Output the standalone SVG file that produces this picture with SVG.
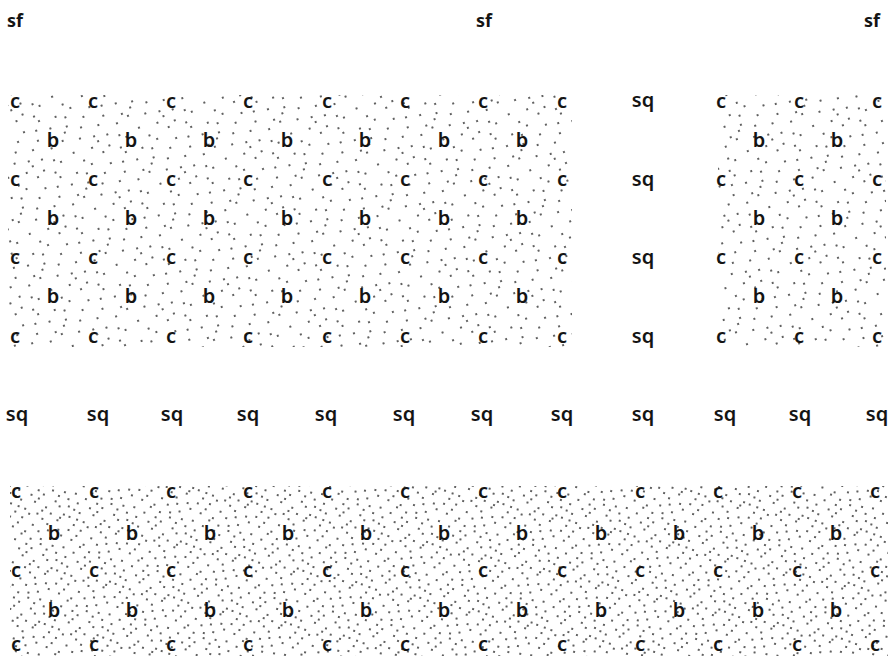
<svg xmlns="http://www.w3.org/2000/svg" width="891" height="656" viewBox="0 0 891 656">
<style>
.t{font-family:"Noto Sans","DejaVu Sans",sans-serif;font-size:20px;font-weight:600;fill:#141414;text-anchor:middle}
.s{font-size:18px;font-weight:700}
</style>
<defs>
<pattern id="pA" width="60" height="55" patternUnits="userSpaceOnUse" x="3" y="2" patternTransform="rotate(13)">
<g fill="#1c1c1c">
<circle cx="3" cy="4" r="0.95"/><circle cx="15" cy="2" r="0.95"/><circle cx="27" cy="7" r="0.95"/><circle cx="41" cy="3" r="0.95"/><circle cx="53" cy="6" r="0.95"/>
<circle cx="8" cy="13" r="0.95"/><circle cx="21" cy="15" r="0.95"/><circle cx="34" cy="12" r="0.95"/><circle cx="47" cy="16" r="0.95"/><circle cx="57" cy="11" r="0.95"/>
<circle cx="2" cy="22" r="0.95"/><circle cx="13" cy="25" r="0.95"/><circle cx="28" cy="21" r="0.95"/><circle cx="39" cy="24" r="0.95"/><circle cx="51" cy="23" r="0.95"/>
<circle cx="6" cy="31" r="0.95"/><circle cx="19" cy="33" r="0.95"/><circle cx="31" cy="30" r="0.95"/><circle cx="44" cy="34" r="0.95"/><circle cx="56" cy="29" r="0.95"/>
<circle cx="10" cy="40" r="0.95"/><circle cx="24" cy="39" r="0.95"/><circle cx="36" cy="42" r="0.95"/><circle cx="49" cy="38" r="0.95"/><circle cx="1" cy="46" r="0.95"/>
<circle cx="16" cy="48" r="0.95"/><circle cx="29" cy="50" r="0.95"/><circle cx="42" cy="47" r="0.95"/><circle cx="55" cy="45" r="0.95"/><circle cx="7" cy="53" r="0.95"/>
<circle cx="21" cy="52" r="0.95"/><circle cx="35" cy="54" r="0.95"/><circle cx="50" cy="52" r="0.95"/><circle cx="12" cy="8" r="0.95"/><circle cx="38" cy="19" r="0.95"/>
<circle cx="25" cy="27" r="0.95"/><circle cx="58" cy="36" r="0.95"/><circle cx="4" cy="38" r="0.95"/><circle cx="46" cy="28" r="0.95"/><circle cx="33" cy="46" r="0.95"/>
<circle cx="18" cy="18" r="0.95"/><circle cx="52" cy="49" r="0.95"/><circle cx="9" cy="47" r="0.95"/><circle cx="43" cy="9" r="0.95"/><circle cx="27" cy="35" r="0.95"/>
</g>
</pattern>
<pattern id="pB" width="70" height="60" patternUnits="userSpaceOnUse" x="5" y="3" patternTransform="rotate(-21)">
<g fill="#1c1c1c">
<circle cx="5" cy="6" r="0.95"/><circle cx="22" cy="3" r="0.95"/><circle cx="40" cy="9" r="0.95"/><circle cx="58" cy="4" r="0.95"/>
<circle cx="12" cy="19" r="0.95"/><circle cx="31" cy="16" r="0.95"/><circle cx="50" cy="22" r="0.95"/><circle cx="66" cy="15" r="0.95"/>
<circle cx="3" cy="31" r="0.95"/><circle cx="20" cy="35" r="0.95"/><circle cx="42" cy="29" r="0.95"/><circle cx="60" cy="34" r="0.95"/>
<circle cx="9" cy="46" r="0.95"/><circle cx="28" cy="48" r="0.95"/><circle cx="47" cy="41" r="0.95"/><circle cx="64" cy="50" r="0.95"/>
<circle cx="16" cy="57" r="0.95"/><circle cx="37" cy="56" r="0.95"/><circle cx="55" cy="58" r="0.95"/><circle cx="25" cy="25" r="0.95"/>
<circle cx="45" cy="52" r="0.95"/><circle cx="68" cy="27" r="0.95"/><circle cx="34" cy="38" r="0.95"/><circle cx="14" cy="10" r="0.95"/>
<circle cx="52" cy="12" r="0.95"/><circle cx="8" cy="24" r="0.95"/><circle cx="36" cy="44" r="0.95"/><circle cx="58" cy="46" r="0.95"/>
</g>
</pattern>
</defs>
<rect width="891" height="656" fill="#fff"/>
<g id="stipple">
<rect x="8" y="95" width="564" height="252" fill="url(#pB)"/>
<rect x="718" y="95" width="168" height="252" fill="url(#pB)"/>
<rect x="10" y="486" width="878" height="170" fill="url(#pA)"/>
</g>
<g id="sf" class="t s">
<text x="15" y="27">sf</text>
<text x="484" y="27">sf</text>
<text x="872" y="27">sf</text>
</g>
<g id="top-block" class="t">
<g id="top-c">
<text x="15" y="108">c</text><text x="93" y="108">c</text><text x="171" y="108">c</text><text x="248" y="108">c</text><text x="327" y="108">c</text><text x="405" y="108">c</text><text x="483" y="108">c</text><text x="562" y="108">c</text>
<text x="15" y="186">c</text><text x="93" y="186">c</text><text x="171" y="186">c</text><text x="248" y="186">c</text><text x="327" y="186">c</text><text x="405" y="186">c</text><text x="483" y="186">c</text><text x="562" y="186">c</text>
<text x="15" y="264">c</text><text x="93" y="264">c</text><text x="171" y="264">c</text><text x="248" y="264">c</text><text x="327" y="264">c</text><text x="405" y="264">c</text><text x="483" y="264">c</text><text x="562" y="264">c</text>
<text x="15" y="343">c</text><text x="93" y="343">c</text><text x="171" y="343">c</text><text x="248" y="343">c</text><text x="327" y="343">c</text><text x="405" y="343">c</text><text x="483" y="343">c</text><text x="562" y="343">c</text>
</g>
<g id="top-b">
<text x="53" y="147">b</text><text x="131" y="147">b</text><text x="209" y="147">b</text><text x="287" y="147">b</text><text x="365" y="147">b</text><text x="444" y="147">b</text><text x="522" y="147">b</text>
<text x="53" y="225">b</text><text x="131" y="225">b</text><text x="209" y="225">b</text><text x="287" y="225">b</text><text x="365" y="225">b</text><text x="444" y="225">b</text><text x="522" y="225">b</text>
<text x="53" y="303">b</text><text x="131" y="303">b</text><text x="209" y="303">b</text><text x="287" y="303">b</text><text x="365" y="303">b</text><text x="444" y="303">b</text><text x="522" y="303">b</text>
</g>
</g>
<g id="sq-column" class="t">
<text x="643" y="107">sq</text><text x="643" y="186">sq</text><text x="643" y="264">sq</text><text x="643" y="343">sq</text>
</g>
<g id="right-block" class="t">
<text x="721" y="108">c</text><text x="799" y="108">c</text><text x="877" y="108">c</text>
<text x="721" y="186">c</text><text x="799" y="186">c</text><text x="877" y="186">c</text>
<text x="721" y="264">c</text><text x="799" y="264">c</text><text x="877" y="264">c</text>
<text x="721" y="343">c</text><text x="799" y="343">c</text><text x="877" y="343">c</text>
<text x="759" y="147">b</text><text x="837" y="147">b</text>
<text x="759" y="225">b</text><text x="837" y="225">b</text>
<text x="759" y="303">b</text><text x="837" y="303">b</text>
</g>
<g id="sq-row" class="t">
<text x="17" y="421">sq</text><text x="98" y="421">sq</text><text x="172" y="421">sq</text><text x="248" y="421">sq</text><text x="326" y="421">sq</text><text x="404" y="421">sq</text><text x="482" y="421">sq</text><text x="562" y="421">sq</text><text x="643" y="421">sq</text><text x="725" y="421">sq</text><text x="800" y="421">sq</text><text x="877" y="421">sq</text>
</g>
<g id="bottom-block" class="t">
<g id="bottom-c">
<text x="16" y="498">c</text><text x="94" y="498">c</text><text x="171" y="498">c</text><text x="248" y="498">c</text><text x="327" y="498">c</text><text x="405" y="498">c</text><text x="483" y="498">c</text><text x="562" y="498">c</text><text x="640" y="498">c</text><text x="718" y="498">c</text><text x="797" y="498">c</text><text x="875" y="498">c</text>
<text x="16" y="577">c</text><text x="94" y="577">c</text><text x="171" y="577">c</text><text x="248" y="577">c</text><text x="327" y="577">c</text><text x="405" y="577">c</text><text x="483" y="577">c</text><text x="562" y="577">c</text><text x="640" y="577">c</text><text x="718" y="577">c</text><text x="797" y="577">c</text><text x="875" y="577">c</text>
<text x="16" y="651">c</text><text x="94" y="651">c</text><text x="171" y="651">c</text><text x="248" y="651">c</text><text x="327" y="651">c</text><text x="405" y="651">c</text><text x="483" y="651">c</text><text x="562" y="651">c</text><text x="640" y="651">c</text><text x="718" y="651">c</text><text x="797" y="651">c</text><text x="875" y="651">c</text>
</g>
<g id="bottom-b">
<text x="54" y="540">b</text><text x="132" y="540">b</text><text x="210" y="540">b</text><text x="288" y="540">b</text><text x="366" y="540">b</text><text x="444" y="540">b</text><text x="522" y="540">b</text><text x="601" y="540">b</text><text x="679" y="540">b</text><text x="758" y="540">b</text><text x="836" y="540">b</text>
<text x="54" y="617">b</text><text x="132" y="617">b</text><text x="210" y="617">b</text><text x="288" y="617">b</text><text x="366" y="617">b</text><text x="444" y="617">b</text><text x="522" y="617">b</text><text x="601" y="617">b</text><text x="679" y="617">b</text><text x="758" y="617">b</text><text x="836" y="617">b</text>
</g>
</g>
</svg>
